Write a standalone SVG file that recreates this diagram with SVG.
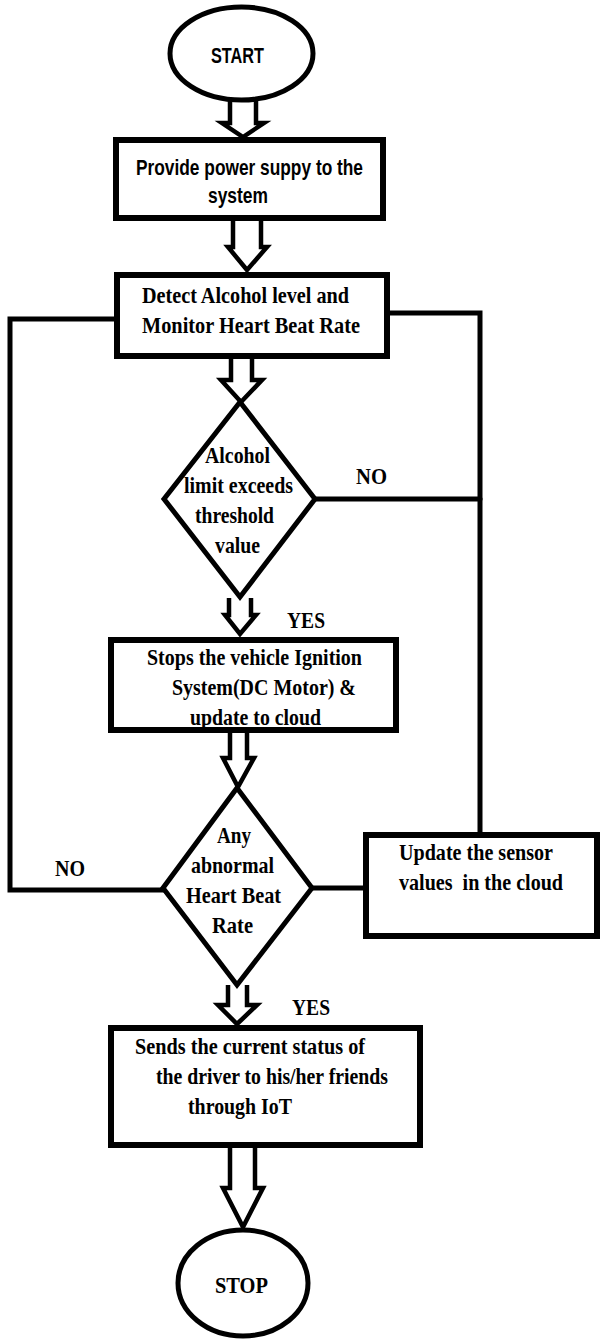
<svg xmlns="http://www.w3.org/2000/svg" width="600" height="1341" viewBox="0 0 600 1341">
<style>
.shape{fill:#fff;stroke:#000;stroke-width:5;stroke-linejoin:miter}
.box{fill:#fff;stroke:#000;stroke-width:6}
.arr{fill:#fff;stroke:#000;stroke-width:4.5;stroke-linejoin:miter}
.ln{fill:none;stroke:#000;stroke-width:5;stroke-linecap:round;stroke-linejoin:miter}
.t{font-family:"Liberation Serif","Times New Roman",serif;font-weight:bold;font-size:24px;fill:#000;white-space:pre}
.s{font-family:"Liberation Sans",Arial,sans-serif;font-weight:bold;font-size:22px;fill:#000}
</style>
<rect width="600" height="1341" fill="#fff"/>
<g id="connectors">
<path class="ln" d="M388 313 H480 V834"/>
<path class="ln" d="M315 499 H480"/>
<path class="ln" d="M117 319 H10 V890 H163"/>
<path class="ln" d="M312 888 H366"/>
<path class="arr" d="M230 100 V123 H222 L243 137 L264 123 H256 V100"/>
<path class="arr" d="M233 220 V247 H228 L247 270 L267 247 H261 V220"/>
<path class="arr" d="M231 358 V380 H221 L241 402 L262 380 H252 V358"/>
<path class="arr" d="M229 598 V615 H225 L240 634 L256 615 H251 V598"/>
<path class="arr" d="M230 733 V758 H223 L238 787 L254 758 H247 V733"/>
<path class="arr" d="M228 985 V1005 H218 L237 1024 L257 1005 H247 V985"/>
<path class="arr" d="M230 1148 V1188 H223 L243 1227 L263 1188 H255 V1148"/>
</g>
<g id="start">
<ellipse class="shape" cx="241.5" cy="53.5" rx="71.5" ry="46.5"/>
<text class="s" x="211" y="63" textLength="53" lengthAdjust="spacingAndGlyphs">START</text>
</g>
<g id="power">
<rect class="box" x="116" y="140" width="267" height="78"/>
<text class="s" x="136" y="175" textLength="227" lengthAdjust="spacingAndGlyphs">Provide power suppy to the</text>
<text class="s" x="208" y="203" textLength="60" lengthAdjust="spacingAndGlyphs">system</text>
</g>
<g id="detect">
<rect class="box" x="117" y="275" width="270" height="81"/>
<text class="t" x="142" y="303" textLength="207" lengthAdjust="spacingAndGlyphs">Detect Alcohol level and</text>
<text class="t" x="142" y="333" textLength="218" lengthAdjust="spacingAndGlyphs">Monitor Heart Beat Rate</text>
</g>
<g id="alcohol-check">
<polygon class="shape" points="240,402 315,499 240,597 164,499"/>
<text class="t" x="205" y="463" textLength="65" lengthAdjust="spacingAndGlyphs">Alcohol</text>
<text class="t" x="184" y="493" textLength="109" lengthAdjust="spacingAndGlyphs">limit exceeds</text>
<text class="t" x="195" y="523" textLength="79" lengthAdjust="spacingAndGlyphs">threshold</text>
<text class="t" x="215" y="553" textLength="45" lengthAdjust="spacingAndGlyphs">value</text>
</g>
<g id="labels">
<text class="t" x="356" y="484" textLength="31" lengthAdjust="spacingAndGlyphs">NO</text>
<text class="t" x="287" y="628" textLength="38" lengthAdjust="spacingAndGlyphs">YES</text>
<text class="t" x="55" y="876" textLength="30" lengthAdjust="spacingAndGlyphs">NO</text>
<text class="t" x="292" y="1015" textLength="38" lengthAdjust="spacingAndGlyphs">YES</text>
</g>
<g id="stop-ignition">
<rect class="box" x="111" y="640" width="285" height="90"/>
<text class="t" x="147" y="665" textLength="215" lengthAdjust="spacingAndGlyphs">Stops the vehicle Ignition</text>
<text class="t" x="172" y="695" textLength="184" lengthAdjust="spacingAndGlyphs">System(DC Motor) &amp;</text>
<text class="t" x="190" y="725" textLength="131" lengthAdjust="spacingAndGlyphs">update to cloud</text>
</g>
<g id="heart-check">
<polygon class="shape" points="237,788 312,888 237,985 163,888"/>
<text class="t" x="217" y="843" textLength="34" lengthAdjust="spacingAndGlyphs">Any</text>
<text class="t" x="191" y="873" textLength="83" lengthAdjust="spacingAndGlyphs">abnormal</text>
<text class="t" x="186" y="903" textLength="95" lengthAdjust="spacingAndGlyphs">Heart Beat</text>
<text class="t" x="212" y="933" textLength="41" lengthAdjust="spacingAndGlyphs">Rate</text>
</g>
<g id="update-cloud">
<rect class="box" x="366" y="835" width="231" height="101"/>
<text class="t" x="399" y="860" textLength="154" lengthAdjust="spacingAndGlyphs">Update the sensor</text>
<text class="t" x="399" y="890" textLength="164" lengthAdjust="spacingAndGlyphs">values  in the cloud</text>
</g>
<g id="send-status">
<rect class="box" x="111" y="1028" width="309" height="117"/>
<text class="t" x="135" y="1054" textLength="230" lengthAdjust="spacingAndGlyphs">Sends the current status of</text>
<text class="t" x="156" y="1084" textLength="232" lengthAdjust="spacingAndGlyphs">the driver to his/her friends</text>
<text class="t" x="188" y="1114" textLength="104" lengthAdjust="spacingAndGlyphs">through IoT</text>
</g>
<g id="stop">
<ellipse class="shape" cx="243" cy="1283" rx="65" ry="53"/>
<text class="t" x="215" y="1293" textLength="53" lengthAdjust="spacingAndGlyphs">STOP</text>
</g>
</svg>
